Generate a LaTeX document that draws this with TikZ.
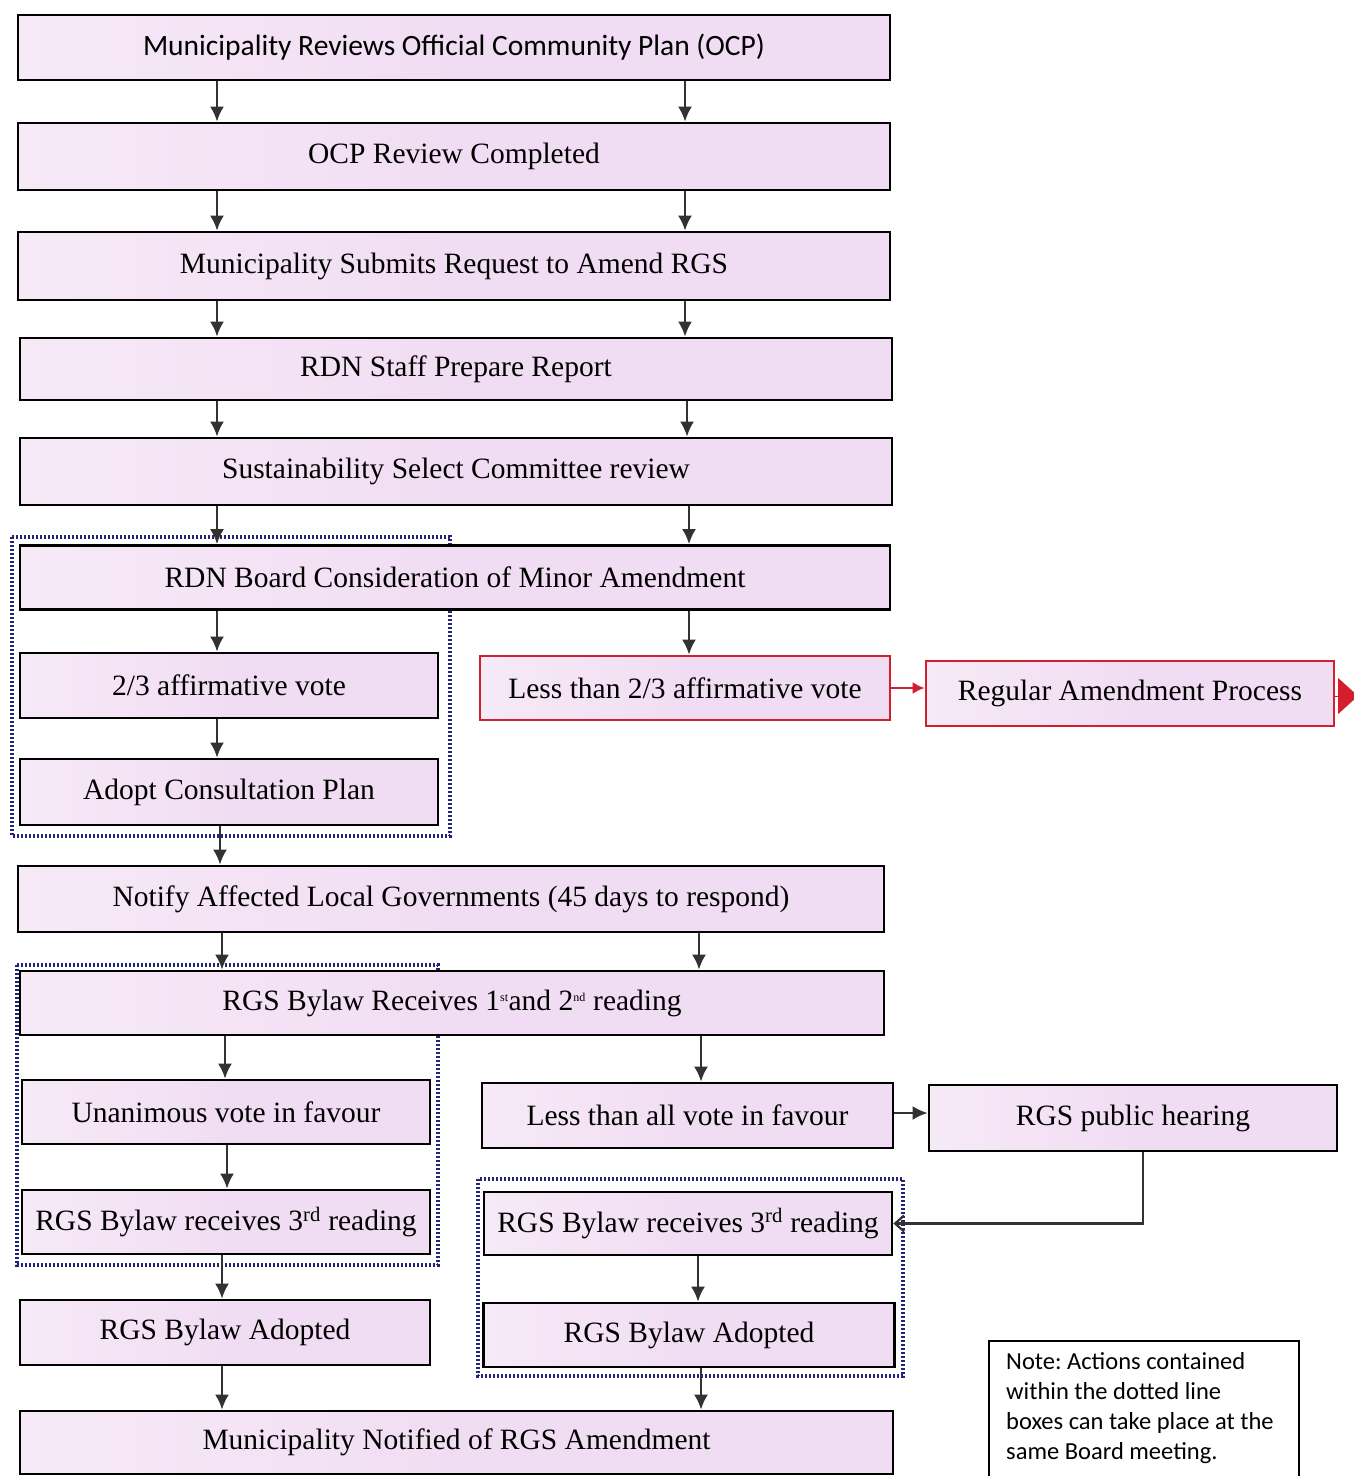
\documentclass[tikz,border=0pt]{standalone}
\usepackage{fontspec}
\setmainfont{Liberation Serif}
\newfontfamily\calib{Carlito}
\usetikzlibrary{arrows.meta}
\frenchspacing
\definecolor{boxfill}{RGB}{241,221,243}
\definecolor{boxfillL}{RGB}{246,234,247}
\definecolor{arrgray}{RGB}{50,50,50}
\definecolor{dotblue}{RGB}{35,35,120}
\definecolor{redline}{RGB}{210,30,45}
\newcommand{\smallsup}[1]{\textsuperscript{\fontsize{12}{12}\selectfont #1}}
\tikzset{
  box/.style={draw=black, line width=2.8pt, left color=boxfillL, right color=boxfill, middle color=boxfill, inner sep=0pt,
              font=\fontsize{29.5}{34}\selectfont},
  redbox/.style={box, draw=redline},
  arr/.style={draw=arrgray, line width=2.2pt, -{Latex[length=15pt,width=14pt]}},
  redarr/.style={draw=redline, line width=2.2pt, -{Latex[length=12pt,width=12pt]}},
  bigred/.style={draw=redline, fill=redline, line width=1pt, -{Triangle[length=20pt,width=36pt]}},
  openarr/.style={draw=arrgray, line width=2.2pt, -{Straight Barb[length=9pt,width=16pt]}},
  dotframe/.style={draw=dotblue, line width=3.6pt, dash pattern=on 2.2pt off 1.8pt},
}
\begin{document}
\begin{tikzpicture}[x=1pt,y=-1pt]
\useasboundingbox (0,0) rectangle (1353,1476);
% dotted frames (drawn first, boxes cover them)
\draw[dotframe] (12,537) rectangle (450,836);
\draw[dotframe] (17,965) rectangle (438,1265);
\draw[dotframe] (478,1179) rectangle (903,1376);

% boxes
\node[box, minimum width=872pt, minimum height=65pt] (b1) at (454,47.5)
  {\calib Municipality Reviews Official Community Plan (OCP)};
\node[box, minimum width=872pt, minimum height=67pt] (b2) at (454,156.5) {OCP Review Completed};
\node[box, minimum width=872pt, minimum height=68pt] (b3) at (454,266) {Municipality Submits Request to Amend RGS};
\node[box, minimum width=872pt, minimum height=62pt] (b4) at (456,369) {RDN Staff Prepare Report};
\node[box, minimum width=872pt, minimum height=67pt] (b5) at (456,471.5) {Sustainability Select Committee review};
\node[box, minimum width=870pt, minimum height=64pt] (b6) at (455,577.5) {RDN Board Consideration of Minor Amendment};
\node[box, minimum width=418pt, minimum height=65pt] (b7) at (229,685.5) {2/3 affirmative vote};
\node[box, minimum width=418pt, minimum height=66pt] (b8) at (229,792) {Adopt Consultation Plan};
\node[redbox, minimum width=410pt, minimum height=64pt] (rl) at (685,688) {Less than 2/3 affirmative vote};
\node[redbox, minimum width=408pt, minimum height=65pt] (rap) at (1130,693.5) {Regular Amendment Process};
\node[box, minimum width=866pt, minimum height=66pt] (b9) at (451,899) {Notify Affected Local Governments (45 days to respond)};
\node[box, minimum width=864pt, minimum height=64pt] (b10) at (452,1003)
  {RGS Bylaw Receives 1\smallsup{st}and 2\smallsup{nd} reading};
\node[box, minimum width=408pt, minimum height=64pt] (b11) at (226,1112) {Unanimous vote in favour};
\node[box, minimum width=411pt, minimum height=65pt] (b12) at (687.5,1115.5) {Less than all vote in favour};
\node[box, minimum width=408pt, minimum height=66pt] (b13) at (1133,1118) {RGS public hearing};
\node[box, minimum width=408pt, minimum height=64pt] (b14) at (226,1222) {RGS Bylaw receives 3\textsuperscript{rd} reading};
\node[box, minimum width=408pt, minimum height=63pt] (b15) at (688,1223.5) {RGS Bylaw receives 3\textsuperscript{rd} reading};
\node[box, minimum width=410pt, minimum height=65pt] (b16) at (225,1332.5) {RGS Bylaw Adopted};
\node[box, minimum width=411pt, minimum height=64pt] (b17) at (689,1335) {RGS Bylaw Adopted};
\node[box, minimum width=873pt, minimum height=63pt] (b18) at (456.5,1442.5) {Municipality Notified of RGS Amendment};

% note
\node[draw=black, line width=2.2pt, fill=white, minimum width=310pt, minimum height=150pt, anchor=north west, inner sep=0pt] (notebox) at (988,1340) {};
\node[anchor=north west, inner sep=0pt, align=left, font=\calib\fontsize{24.5}{30}\selectfont] (note) at (1006,1352)
  {Note: Actions contained\\within the dotted line\\boxes can take place at the\\same Board meeting.};

% arrows
\draw[arr] (b1.south -| 217,0) -- (b2.north -| 217,0);
\draw[arr] (b1.south -| 685,0) -- (b2.north -| 685,0);
\draw[arr] (b2.south -| 217,0) -- (b3.north -| 217,0);
\draw[arr] (b2.south -| 685,0) -- (b3.north -| 685,0);
\draw[arr] (b3.south -| 217,0) -- (b4.north -| 217,0);
\draw[arr] (b3.south -| 685,0) -- (b4.north -| 685,0);
\draw[arr] (b4.south -| 217,0) -- (b5.north -| 217,0);
\draw[arr] (b4.south -| 687,0) -- (b5.north -| 687,0);
\draw[arr] (b5.south -| 217,0) -- (b6.north -| 217,0);
\draw[arr] (b5.south -| 689,0) -- (b6.north -| 689,0);
\draw[arr] (b6.south -| 217,0) -- (b7.north -| 217,0);
\draw[arr] (b6.south -| 689,0) -- (rl.north -| 689,0);
\draw[arr] (b7.south -| 217,0) -- (b8.north -| 217,0);
\draw[arr] (b8.south -| 220,0) -- (b9.north -| 220,0);
\draw[redarr] (rl.east) -- (rl.east -| rap.west);
\coordinate (offpage) at (1358,696);
\draw[bigred] (rap.east |- offpage) -- (offpage);
\draw[arr] (b9.south -| 222,0) -- (b10.north -| 222,0);
\draw[arr] (b9.south -| 699,0) -- (b10.north -| 699,0);
\draw[arr] (b10.south -| 225,0) -- (b11.north -| 225,0);
\draw[arr] (b10.south -| 701,0) -- (b12.north -| 701,0);
\draw[arr] (b12.east |- 0,1113) -- (b13.west |- 0,1113);
\draw[arr] (b11.south -| 227,0) -- (b14.north -| 227,0);
\draw[openarr] (b13.south -| 1143,0) |- (b15.east);
\draw[arr] (b15.south -| 698,0) -- (b17.north -| 698,0);
\draw[arr] (b14.south -| 222,0) -- (b16.north -| 222,0);
\draw[arr] (b16.south -| 222,0) -- (b18.north -| 222,0);
\draw[arr] (b17.south -| 701,0) -- (b18.north -| 701,0);
\end{tikzpicture}
\end{document}
